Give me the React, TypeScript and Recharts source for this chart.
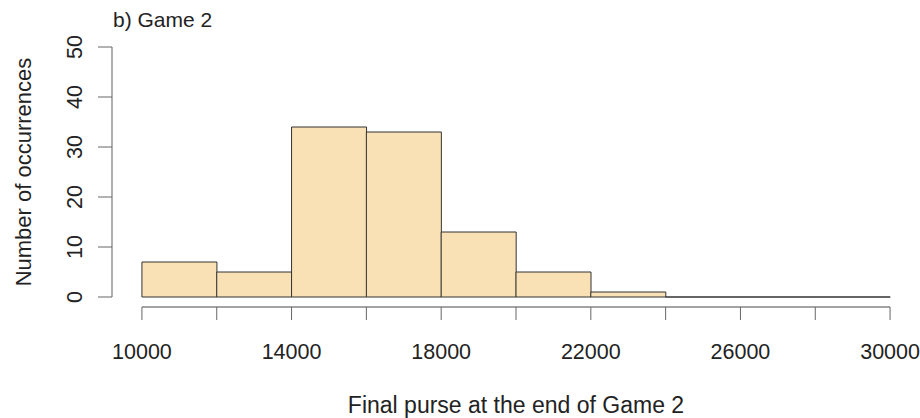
import { ComposedChart, Bar, XAxis, YAxis, ReferenceLine } from 'recharts'

// histogram bins (final purse) and counts
const binStarts = [10000, 12000, 14000, 16000, 18000, 20000, 22000, 24000, 26000, 28000]
const binEnds = [12000, 14000, 16000, 18000, 20000, 22000, 24000, 26000, 28000, 30000]
const counts = [7, 5, 34, 33, 13, 5, 1, 0, 0, 0]

const xTicks = [10000, 12000, 14000, 16000, 18000, 20000, 22000, 24000, 26000, 28000, 30000]
const xLabels = [10000, 14000, 18000, 22000, 26000, 30000]
const yTicks = [0, 10, 20, 30, 40, 50]

const title = 'b) Game 2'
const xTitle = 'Final purse at the end of Game 2'
const yTitle = 'Number of occurrences'

const data = binStarts.map((start, i) => ({
  mid: (start + binEnds[i]) / 2,
  start,
  end: binEnds[i],
  count: counts[i],
}))

// R-style 4% padding around the axis ranges
const xMin = xTicks[0]
const xMax = xTicks[xTicks.length - 1]
const yMin = yTicks[0]
const yMax = yTicks[yTicks.length - 1]
const xPad = (xMax - xMin) * 0.04
const yPad = (yMax - yMin) * 0.04
const xDomain = [xMin - xPad, xMax + xPad]
const yDomain = [yMin - yPad, yMax + yPad]

const FONT = '"Liberation Sans", Arial, sans-serif'
const TEXT = '#222'
const AXIS = '#858585'

const HistBar = (props: any) => {
  const { x, y, width, height, fill } = props
  const top = Math.min(y, y + height)
  const bottom = top + Math.abs(height)
  return (
    <path
      d={`M${x},${bottom}V${top}H${x + width}V${bottom}Z`}
      fill={fill}
      stroke="#333"
      strokeWidth={1}
    />
  )
}

const XTick = (props: any) => {
  const { x, y, payload } = props
  if (!xLabels.includes(payload.value)) return null
  return (
    <text x={x} y={y + 39} textAnchor="middle" fontSize={21.5} fontFamily={FONT} fill={TEXT}>
      {payload.value}
    </text>
  )
}

const YTick = (props: any) => {
  const { x, y, payload } = props
  const tx = x - 16
  return (
    <text
      x={tx}
      y={y}
      transform={`rotate(-90, ${tx}, ${y})`}
      textAnchor="middle"
      fontSize={21.5}
      fontFamily={FONT}
      fill={TEXT}
    >
      {payload.value}
    </text>
  )
}

export default function App() {
  return (
    <div style={{ position: 'absolute', left: 0, top: 0, width: 920, height: 418, background: '#fff' }}>
      <ComposedChart
        width={920}
        height={418}
        data={data}
        margin={{ top: 37, right: 0, left: 12, bottom: 51 }}
        barCategoryGap={0}
        barGap={0}
      >
        <XAxis
          type="number"
          dataKey="mid"
          domain={xDomain}
          ticks={xTicks}
          interval={0}
          height={60}
          axisLine={false}
          tickLine={{ stroke: '#666' }}
          tickSize={13}
          tickMargin={0}
          tick={<XTick />}
        />
        <YAxis
          type="number"
          domain={yDomain}
          ticks={yTicks}
          interval={0}
          width={100}
          axisLine={false}
          tickLine={{ stroke: '#666' }}
          tickSize={14}
          tickMargin={0}
          tick={<YTick />}
        />
        <Bar dataKey="count" fill="#F9E1B5" shape={HistBar} isAnimationActive={false} />
        <ReferenceLine
          segment={[{ x: xMin, y: yDomain[0] }, { x: xMax, y: yDomain[0] }]}
          stroke={AXIS}
          strokeWidth={1.3}
          ifOverflow="visible"
        />
        <ReferenceLine
          segment={[{ x: xDomain[0], y: yMin }, { x: xDomain[0], y: yMax }]}
          stroke={AXIS}
          strokeWidth={1.3}
          ifOverflow="visible"
        />
      </ComposedChart>
      <svg
        width={920}
        height={418}
        style={{ position: 'absolute', left: 0, top: 0, pointerEvents: 'none' }}
      >
        <text x={113} y={27} fontSize={21} fontFamily={FONT} fill={TEXT}>
          {title}
        </text>
        <text x={516} y={413} textAnchor="middle" fontSize={23} fontFamily={FONT} fill={TEXT}>
          {xTitle}
        </text>
        <text
          x={31}
          y={172}
          transform="rotate(-90, 31, 172)"
          textAnchor="middle"
          fontSize={22}
          fontFamily={FONT}
          fill={TEXT}
        >
          {yTitle}
        </text>
      </svg>
    </div>
  )
}
